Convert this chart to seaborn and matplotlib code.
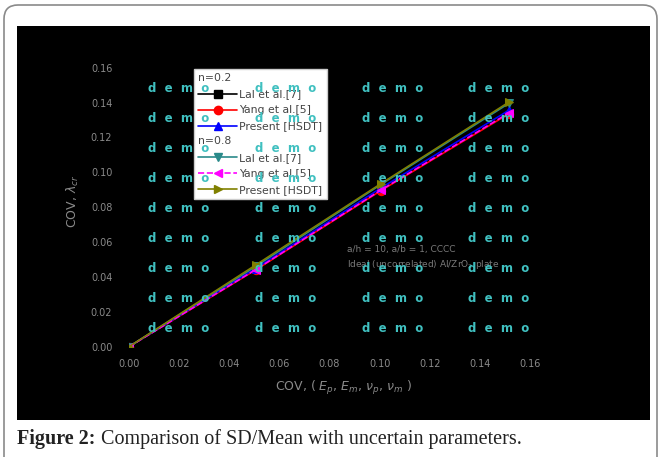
import numpy as np
import pandas as pd
import matplotlib.pyplot as plt
import seaborn as sns
from matplotlib.lines import Line2D
from matplotlib.patches import FancyBboxPatch, Rectangle
from matplotlib.legend_handler import HandlerBase
from matplotlib.text import Text

# Data
cov_input = [0.0, 0.0505, 0.1005, 0.1515]
lal_02 = [0.0, 0.0445, 0.0905, 0.1345]
yang_02 = [0.0, 0.0440, 0.0895, 0.1335]
present_02 = [0.0, 0.0448, 0.0910, 0.1355]
lal_08 = [0.0, 0.0460, 0.0930, 0.1395]
yang_08 = [0.0, 0.0442, 0.0898, 0.1340]
present_08 = [0.0, 0.0468, 0.0935, 0.1402]

labels = ["Lal et al.[7]", "Yang et al.[5]", "Present [HSDT]",
          "Lal et al.[7]", "Yang et al.[5]", "Present [HSDT]"]
groups = ["n=0.2"] * 3 + ["n=0.8"] * 3
values = [lal_02, yang_02, present_02, lal_08, yang_08, present_08]
colors = ["black", "red", "blue", "#2a8a8a", "magenta", "#808000"]
markers = ["s", "o", "^", "v", "<", ">"]
styles = ["-", "-", "-", "-", "--", "-"]

xticks = [0.00, 0.02, 0.04, 0.06, 0.08, 0.10, 0.12, 0.14, 0.16]

rows = []
for i, (g, lab, ys) in enumerate(zip(groups, labels, values)):
    for x, y in zip(cov_input, ys):
        rows.append({"series": i, "group": g, "label": lab, "cov_in": x, "cov_out": y})
df = pd.DataFrame(rows)

sns.set_style("white")

W, H = 661, 457
fig = plt.figure(figsize=(W / 100, H / 100), dpi=100)
fig.patch.set_facecolor("white")

# page frame and black plot panel
fig.add_artist(FancyBboxPatch((4, -20), 653, 472, boxstyle="round,pad=0,rounding_size=14",
                              transform=None, facecolor="white", edgecolor="#8a8a8a",
                              linewidth=1.2, zorder=-2))
fig.add_artist(Rectangle((17, H - 420), 633, 394, transform=None,
                         facecolor="black", edgecolor="none", zorder=-1))

ax = fig.add_axes([129 / W, 1 - 346.7 / H, 401 / W, 279 / H])
ax.set_facecolor("black")

for i in range(6):
    sub = df[df["series"] == i]
    sns.lineplot(data=sub, x="cov_in", y="cov_out", ax=ax, color=colors[i],
                 marker=markers[i], linestyle=styles[i], markersize=6,
                 markeredgecolor=colors[i], linewidth=1.2, errorbar=None, legend=False)

ax.set_xlim(0, 0.16)
ax.set_ylim(0, 0.16)
ax.set_xticks(xticks)
ax.set_yticks(xticks)
ax.set_xticklabels([f"{t:.2f}" for t in xticks])
ax.set_yticklabels([f"{t:.2f}" for t in xticks])
ax.tick_params(colors="#8a8a8a", labelsize=7, length=0)
ax.tick_params(axis="y", pad=12)
ax.tick_params(axis="x", pad=9)
for s in ax.spines.values():
    s.set_visible(False)

ax.set_xlabel(r"COV, ( $E_p$, $E_m$, $\nu_p$, $\nu_m$ )", color="#8a8a8a", fontsize=9)
ax.xaxis.set_label_coords(0.535, -0.115)
ax.set_ylabel(r"COV, $\lambda_{cr}$", color="#8a8a8a", fontsize=9)
ax.yaxis.set_label_coords(-0.12, 0.52)

ax.text(0.544, 0.347, "a/h = 10, a/b = 1, CCCC", transform=ax.transAxes,
        color="#7a7a7a", fontsize=6.5, va="center")
ax.text(0.544, 0.293, r"Ideal (uncorrelated) Al/ZrO$_2$ plate", transform=ax.transAxes,
        color="#7a7a7a", fontsize=6.5, va="center")


# legend with group headers
class Header:
    def __init__(self, text):
        self.text = text


class HeaderHandler(HandlerBase):
    def create_artists(self, legend, orig_handle, xdescent, ydescent, width, height, fontsize, trans):
        t = Text(-xdescent, -ydescent + height / 2, orig_handle.text, fontsize=fontsize,
                 color="#444444", va="center", ha="left", transform=trans)
        return [t]


handles, leg_labels = [], []
for g in ["n=0.2", "n=0.8"]:
    handles.append(Header(g))
    leg_labels.append("")
    for i in range(6):
        if groups[i] == g:
            handles.append(Line2D([], [], color=colors[i], marker=markers[i],
                                  linestyle=styles[i], markersize=6, linewidth=1.2))
            leg_labels.append(labels[i])

leg = ax.legend(handles, leg_labels, handler_map={Header: HeaderHandler()},
                loc="upper left", bbox_to_anchor=(0.162, 0.995), borderaxespad=0,
                fontsize=7.8, handlelength=3.6, handletextpad=0.2, labelspacing=0.55,
                frameon=True, fancybox=False, framealpha=1, borderpad=0.4)
leg.get_frame().set_facecolor("white")
leg.get_frame().set_edgecolor("#cccccc")
for t in leg.get_texts():
    t.set_color("#444444")

# "demo" watermark grid
for cx in [148, 255, 362, 468]:
    for cy in np.linspace(88, 329, 9):
        fig.text(cx / W, 1 - cy / H, "d  e  m  o", color="#40c0c0", fontsize=8.5,
                 fontweight="bold", ha="left", va="center", zorder=5)

# caption
t1 = fig.text(17 / W, 1 - 444 / H, "Figure 2:", fontsize=14.5, fontweight="bold",
              family="Liberation Serif", color="#222222", va="baseline")
ax.annotate("Comparison of SD/Mean with uncertain parameters.", xy=(1, 0), xycoords=t1,
            xytext=(4, 0), textcoords="offset points", fontsize=14.5,
            family="Liberation Serif", color="#222222", va="bottom", annotation_clip=False)

fig.savefig("out.png", dpi=100)
